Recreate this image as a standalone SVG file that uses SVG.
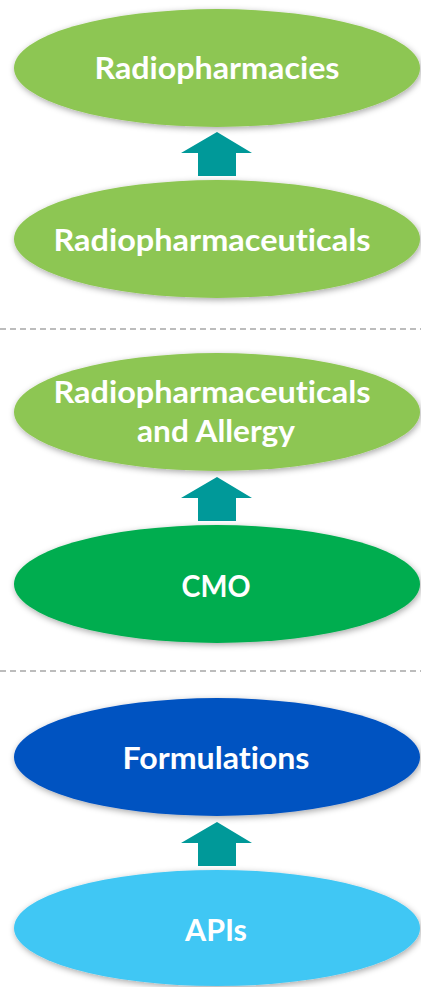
<svg xmlns="http://www.w3.org/2000/svg" width="421" height="987" viewBox="0 0 421 987">
<style>
.lbl{font-family:Lato,"Open Sans","Liberation Sans",sans-serif;font-weight:bold;font-size:30px;fill:#ffffff;text-anchor:middle;font-variant-ligatures:none;font-feature-settings:"liga" 0,"clig" 0}
.lg{fill:#8DC652}
.dg{fill:#00AD4F}
.bl{fill:#0052C1}
.lb{fill:#40C7F4}
.arr{fill:#009999}
.sep{stroke:#A6A6A6;stroke-width:1.5;stroke-dasharray:6 4;fill:none}
</style>
<defs>
<filter id="sh" x="-10%" y="-20%" width="120%" height="145%">
<feDropShadow dx="1" dy="2" stdDeviation="3" flood-color="#000" flood-opacity="0.35"/>
</filter>
</defs>
<rect width="421" height="987" fill="#ffffff"/>
<g id="separators">
<line class="sep" x1="0" y1="329" x2="421" y2="329"/>
<line class="sep" x1="0" y1="671" x2="421" y2="671"/>
</g>
<g id="connectors">
<polygon class="arr" points="217,132 252,153 236,153 236,176 198,176 198,153 181,153"/>
<polygon class="arr" points="217,477 252,498 236,498 236,521 198,521 198,498 181,498"/>
<polygon class="arr" points="217,822 252,843 236,843 236,866 198,866 198,843 181,843"/>
</g>
<g id="radiopharmacies">
<ellipse class="lg" cx="217" cy="68" rx="203" ry="59" filter="url(#sh)"/>
<text class="lbl" x="217" y="79" textLength="245" lengthAdjust="spacingAndGlyphs">Radiopharmacies</text>
</g>
<g id="radiopharmaceuticals">
<ellipse class="lg" cx="217" cy="239" rx="203" ry="59" filter="url(#sh)"/>
<text class="lbl" x="212" y="251" textLength="317" lengthAdjust="spacingAndGlyphs">Radiopharmaceuticals</text>
</g>
<g id="radiopharmaceuticals-allergy">
<ellipse class="lg" cx="217" cy="412" rx="203" ry="59" filter="url(#sh)"/>
<text class="lbl" x="212" y="403" textLength="317" lengthAdjust="spacingAndGlyphs">Radiopharmaceuticals</text>
<text class="lbl" x="216" y="442" textLength="158" lengthAdjust="spacingAndGlyphs">and Allergy</text>
</g>
<g id="cmo">
<ellipse class="dg" cx="217" cy="584" rx="203" ry="59" filter="url(#sh)"/>
<text class="lbl" x="216" y="597" textLength="69" lengthAdjust="spacingAndGlyphs">CMO</text>
</g>
<g id="formulations">
<ellipse class="bl" cx="217" cy="757" rx="203" ry="59" filter="url(#sh)"/>
<text class="lbl" x="216" y="769" textLength="187" lengthAdjust="spacingAndGlyphs">Formulations</text>
</g>
<g id="apis">
<ellipse class="lb" cx="217" cy="928" rx="203" ry="58" filter="url(#sh)"/>
<text class="lbl" x="216" y="941" textLength="62" lengthAdjust="spacingAndGlyphs">APIs</text>
</g>
</svg>
